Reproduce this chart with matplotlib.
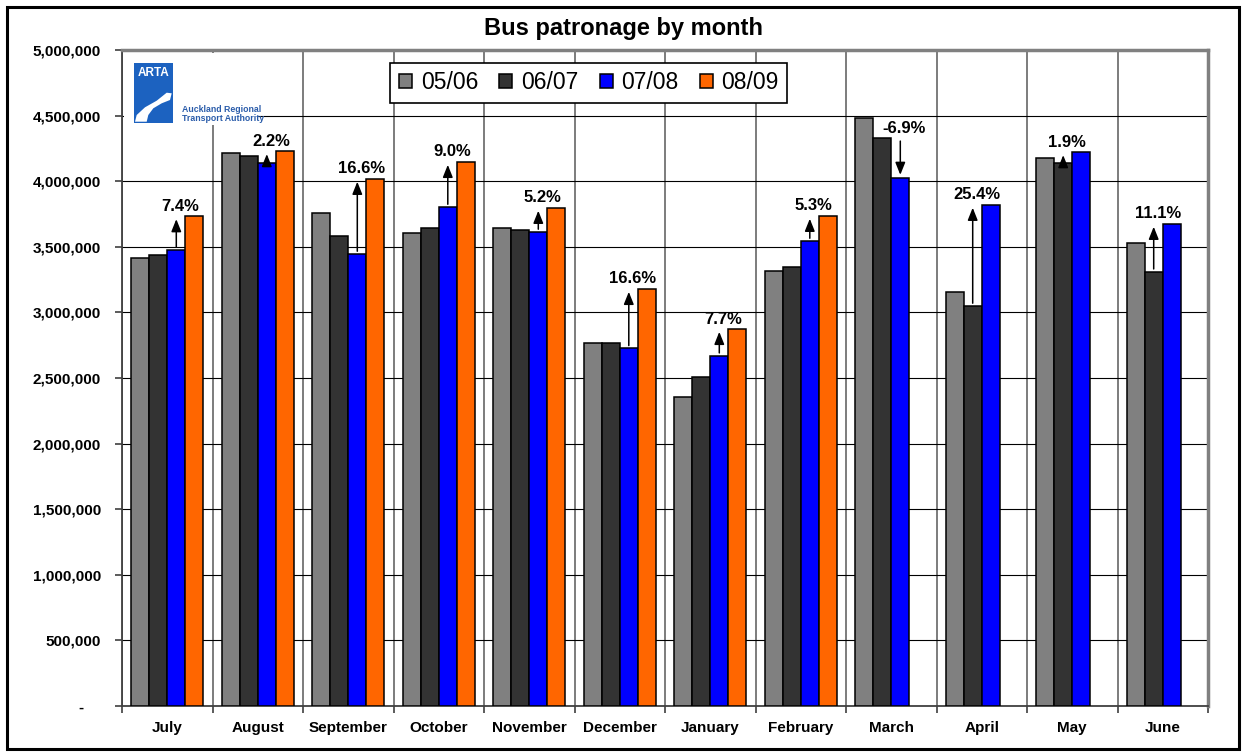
import numpy as np
import matplotlib
matplotlib.use("Agg")
import matplotlib.pyplot as plt
from matplotlib.patches import Rectangle, Polygon
from matplotlib.ticker import FuncFormatter

plt.rcParams['font.family'] = ['Liberation Sans', 'DejaVu Sans']

months = ['July', 'August', 'September', 'October', 'November', 'December',
          'January', 'February', 'March', 'April', 'May', 'June']
s0506 = [3417000, 4212000, 3760000, 3605000, 3643000, 2769000,
         2357000, 3316000, 4482000, 3155000, 4180000, 3529000]
s0607 = [3440000, 4192000, 3582000, 3643000, 3628000, 2769000,
         2510000, 3346000, 4327000, 3049000, 4139000, 3310000]
s0708 = [3476000, 4139000, 3445000, 3803000, 3613000, 2726000,
         2670000, 3544000, 4027000, 3819000, 4220000, 3674000]
s0809 = [3732000, 4228000, 4017000, 4146000, 3796000, 3178000,
         2873000, 3735000, None, None, None, None]
pct = ['7.4%', '2.2%', '16.6%', '9.0%', '5.2%', '16.6%',
       '7.7%', '5.3%', '-6.9%', '25.4%', '1.9%', '11.1%']
labels = ['05/06', '06/07', '07/08', '08/09']
colors = ['#808080', '#333333', '#0000ff', '#ff6600']

series = [np.array(s, dtype=float) for s in (s0506, s0607, s0708, s0809)]

W, H = 1243, 753
fig = plt.figure(figsize=(W / 100, H / 100), dpi=100)
ax = fig.add_axes([122 / W, 1 - 706 / H, 1086 / W, 656 / H])

x = np.arange(len(months))
w = 0.2
for k, (vals, lab, col) in enumerate(zip(series, labels, colors)):
    ax.bar(x + (k - 1.5) * w, vals, w, color=col, edgecolor='black',
           linewidth=1.1, label=lab, zorder=3)

# growth arrows: drawn on the lower bar, from last year's value to the new one
for i in range(len(months)):
    if not np.isnan(series[3][i]):
        old, new, ko, kn = series[2][i], series[3][i], 2, 3
    else:
        old, new, ko, kn = series[1][i], series[2][i], 1, 2
    slot = ko if new > old else kn
    xa = x[i] + (slot - 1.5) * w
    ax.annotate('', xy=(xa, new), xytext=(xa, old),
                arrowprops=dict(arrowstyle='-|>,head_length=0.75,head_width=0.3',
                                color='black', lw=1.1, shrinkA=2, shrinkB=2,
                                mutation_scale=10), zorder=4)
    ax.annotate(pct[i], xy=(xa, max(old, new)), xytext=(3, 4),
                textcoords='offset points', ha='center', va='baseline',
                fontsize=12, fontweight='bold', zorder=5)

ax.set_ylim(0, 5000000)
ax.set_yticks(np.arange(0, 5000001, 500000))
ax.yaxis.set_major_formatter(FuncFormatter(lambda v, p: '-    ' if v == 0 else f'{int(v):,}'))
ax.set_xlim(-0.5, 11.5)
ax.set_xticks(np.arange(-0.5, 12, 1))
ax.set_xticklabels([])
ax.set_xticks(x, minor=True)
ax.set_xticklabels(months, minor=True)
ax.tick_params(axis='x', which='minor', length=0, pad=11)
ax.tick_params(axis='x', which='major', length=5, color='#404040', width=1.2)
ax.tick_params(axis='y', length=5, pad=10, color='#404040', width=1.2)
for t in ax.get_xticklabels(minor=True) + ax.get_yticklabels():
    t.set_fontweight('bold')
    t.set_fontsize(11)

ax.grid(axis='y', color='black', lw=0.8)
ax.grid(axis='x', which='major', color='#666666', lw=1.2)
ax.set_axisbelow(True)
for side in ('top', 'right'):
    ax.spines[side].set_color('#808080')
    ax.spines[side].set_linewidth(2.5)
for side in ('left', 'bottom'):
    ax.spines[side].set_color('#404040')
    ax.spines[side].set_linewidth(1.3)

leg = ax.legend(loc='center', bbox_to_anchor=(0.43, 0.9497), ncol=4, fontsize=16.5,
                handlelength=0.57, handleheight=0.57, handletextpad=0.38,
                columnspacing=0.92, fancybox=False, borderpad=0.38,
                edgecolor='black', framealpha=1)
leg.get_frame().set_linewidth(1.2)

fig.text(624 / W, 1 - 28 / H, 'Bus patronage by month', ha='center', va='center',
         fontsize=17, fontweight='bold')


def fx(px, py):
    return (px / W, 1 - py / H)


# ARTA logo
fig.add_artist(Rectangle(fx(124, 125), 134 / W, 72 / H, transform=fig.transFigure,
                         facecolor='white', edgecolor='none', zorder=2))
fig.add_artist(Rectangle(fx(134, 122.7), 39.3 / W, 59.4 / H, transform=fig.transFigure,
                         facecolor='#1c62c0', edgecolor='none', zorder=3))
swoosh = [(135, 121.7), (136.7, 115), (145, 107.3), (156.7, 100.7), (166.7, 92.7),
          (171.7, 93.3), (170, 100), (161.7, 103.3), (153.3, 108.3), (148.3, 115),
          (146.7, 121.7)]
fig.add_artist(Polygon([fx(a, b) for a, b in swoosh], closed=True,
                       transform=fig.transFigure, facecolor='white',
                       edgecolor='none', zorder=4))
fig.text(153.5 / W, 1 - 72.5 / H, 'ARTA', color='white', fontsize=8.5,
         fontweight='bold', ha='center', va='center', zorder=5)
fig.text(182 / W, 1 - 109.5 / H, 'Auckland Regional', color='#2a5caa', fontsize=6.3,
         fontweight='bold', ha='left', va='center', zorder=5)
fig.text(182 / W, 1 - 118.5 / H, 'Transport Authority', color='#2a5caa', fontsize=6.3,
         fontweight='bold', ha='left', va='center', zorder=5)

# outer border
fig.add_artist(Rectangle(fx(6.5, 749), 1232.5 / W, 742.5 / H, transform=fig.transFigure,
                         facecolor='none', edgecolor='black', linewidth=2.2, zorder=6))

fig.savefig('out.png', dpi=100)
